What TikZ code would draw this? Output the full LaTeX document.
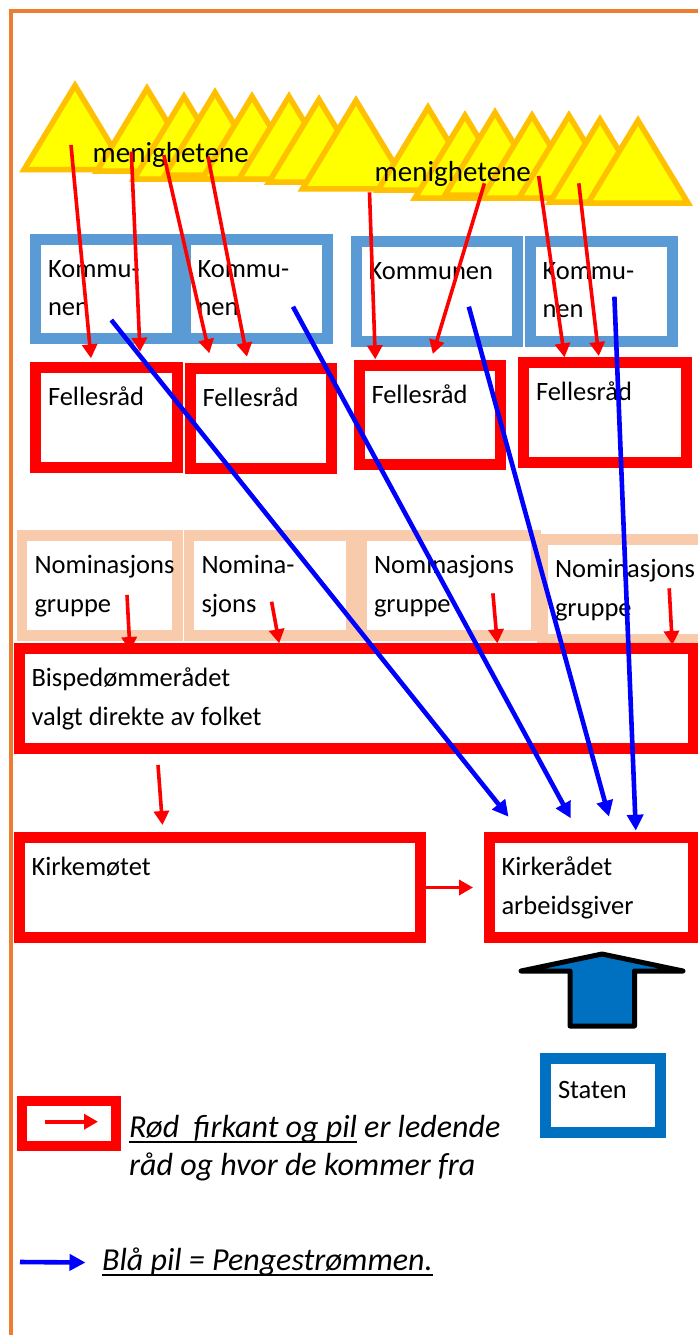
\documentclass[tikz,border=0pt]{standalone}
\usepackage{fontspec}
\setmainfont{Carlito}
\usetikzlibrary{arrows.meta}
\definecolor{frameorange}{HTML}{ED7D31}
\definecolor{kommblue}{HTML}{5B9BD5}
\definecolor{nompeach}{HTML}{F8CBAD}
\definecolor{statblue}{HTML}{0070C0}
\definecolor{trigold}{HTML}{FFC000}
\definecolor{triyellow}{HTML}{FFFF00}
\definecolor{moneyblue}{HTML}{0000FF}
\newcommand{\boxfont}{\fontsize{26.5}{38.5}\selectfont\hyphenpenalty=10000 }
\newcommand{\menfont}{\fontsize{29}{35}\selectfont}
\newcommand{\legfont}{\fontsize{32}{38}\selectfont\itshape}
\newsavebox{\ulbox}
\newcommand{\ulin}[1]{\sbox{\ulbox}{#1}\rlap{\rule[-6pt]{\wd\ulbox}{2.5pt}}\usebox{\ulbox}}
\tikzset{
  box/.style={rectangle, draw, anchor=north west, inner xsep=12.5pt, inner ysep=0pt,
    outer sep=0pt, align=flush left, font=\boxfont,
    execute at begin node=\strut, execute at end node=\strut},
  kommbox/.style={box, draw=kommblue, line width=11pt},
  redbox/.style={box, draw=red, line width=11pt},
  nombox/.style={box, draw=nompeach, line width=10.5pt},
  statbox/.style={box, draw=statblue, line width=11pt},
  tri/.style={draw=trigold, fill=triyellow, line width=5.5pt},
  mentext/.style={font=\menfont, inner sep=0pt, anchor=base west},
  legtext/.style={font=\legfont, inner sep=0pt, anchor=base west},
  redarr/.style={red, line width=3.6pt, -{Triangle[length=14pt,width=15pt]}},
  bluearr/.style={moneyblue, line width=4.6pt, -{Triangle[length=16pt,width=16pt]}},
  frameline/.style={frameorange, line width=4.5pt},
}
\begin{document}
\begin{tikzpicture}[x=1pt,y=-1pt]
\useasboundingbox (0,0) rectangle (698,1335);
\fill[white] (0,0) rectangle (698,1335);
\draw[frameline] (11,1335) -- (11,11) -- (698,11);
% menighetene
\foreach \ax/\ay/\s in {75/80/1.02, 147/83/1, 184/91/1, 215/87/1, 252/91/1, 289/91/1,
    319/94/1, 356/95/1.07, 428/102/1, 465/110/1, 495/107/1, 532/110/1, 569/110/1,
    600/114/1, 638/115/1}
  \draw[tri] (\ax,\ay+5.5) -- ++(-50*\s,82.5*\s) -- ++(100*\s,0) -- cycle;
\node[mentext] (men1) at (92.5,162) {menighetene};
\node[mentext] (men2) at (374.5,181.5) {menighetene};

% kommuner
\node[kommbox, text width=116.5pt, minimum height=98.5pt] (K1) at (35.5,239.5) {Kommu-\\nen};
\node[kommbox, text width=117pt, minimum height=98.5pt] (K2) at (185,239.5) {Kommu-\\nen};
\node[kommbox, text width=136pt, minimum height=99.5pt] (K3) at (356,241.5) {Kommunen\\};
\node[kommbox, text width=117pt, minimum height=100pt] (K4) at (530,241) {Kommu-\\nen};

% fellesraad
\node[redbox, text width=116.5pt, minimum height=99.5pt] (F1) at (35.5,367.5) {Fellesråd\\};
\node[redbox, text width=116pt, minimum height=99.5pt] (F2) at (190,368.5) {Fellesråd\\};
\node[redbox, text width=116pt, minimum height=99pt] (F3) at (359,365.5) {Fellesråd\\};
\node[redbox, text width=138pt, minimum height=100pt] (F4) at (523.5,362.5) {Fellesråd\\};

% nominasjon
\node[nombox, text width=130.5pt, minimum height=100pt] (N1) at (22,535.5) {Nominasjons\\gruppe};
\node[nombox, text width=137pt, minimum height=100pt] (N2) at (189,535.5) {Nomina-\\sjons};
\node[nombox, text width=149.5pt, minimum height=100pt] (N3) at (361.5,535.5) {Nominasjons\\gruppe};
\node[nombox, text width=142.5pt, minimum height=100pt] (N4) at (542.5,539.5) {Nominasjons\\gruppe};

\node[redbox, text width=649pt, minimum height=99.5pt] (BR) at (19,648.5) {Bispedømmerådet\\valgt direkte av folket};
\node[redbox, text width=376pt, minimum height=100pt] (KM) at (19,837.5) {Kirkemøtet\\};
\node[redbox, text width=179pt, minimum height=100pt] (KR) at (489,837.5) {Kirkerådet\\arbeidsgiver};
\node[statbox, text width=89.5pt, minimum height=73.5pt, text height=18pt, text depth=12pt] (ST) at (545.5,1058.5) {Staten};

% staten -> kirkeraadet
\draw[line width=5pt, fill=statblue, line join=round] (602,954) -- (521,971) -- (570,971) -- (570,1026)
  -- (634.5,1026) -- (634.5,971) -- (683,971) -- cycle;

% piler fra menighetene
\coordinate (m1) at (71,145);
\coordinate (m2) at (131.3,151.7);
\coordinate (m3) at (163.8,155);
\coordinate (m4) at (208,156.7);
\coordinate (m5) at (369.5,192.3);
\coordinate (m6) at (484.4,183.3);
\coordinate (m7) at (538.7,176);
\coordinate (m8) at (578.8,183.3);
\draw[redarr] (m1) -- ([xshift=55.5pt,yshift=9.2pt]F1.north west);
\draw[redarr] (m2) -- ([xshift=104.5pt,yshift=15.8pt]F1.north west);
\draw[redarr] (m3) -- ([xshift=19.3pt,yshift=15.2pt]F2.north west);
\draw[redarr] (m4) -- ([xshift=57pt,yshift=11.8pt]F2.north west);
\draw[redarr] (m5) -- ([xshift=16.3pt,yshift=6.2pt]F3.north west);
\draw[redarr] (m6) -- ([xshift=73.8pt,yshift=11.5pt]F3.north west);
\draw[redarr] (m7) -- ([xshift=41pt,yshift=5.2pt]F4.north west);
\draw[redarr] (m8) -- ([xshift=75.3pt,yshift=6.5pt]F4.north west);

% nominasjon -> bispedommeraadet
\coordinate (n1) at (127,595);
\coordinate (n2) at (271.6,601.7);
\coordinate (n3) at (492.9,593.3);
\coordinate (n4) at (669.2,588.3);
\draw[redarr] (n1) -- ([xshift=111pt,yshift=-2.5pt]BR.north west);
\draw[redarr] (n2) -- ([xshift=260.2pt,yshift=5.2pt]BR.north west);
\draw[redarr] (n3) -- ([xshift=478.3pt,yshift=5.2pt]BR.north west);
\draw[redarr] (n4) -- ([xshift=653.3pt,yshift=3.5pt]BR.north west);
\draw[redarr] ([xshift=139pt,yshift=-17pt]BR.south west) -- ([xshift=143.5pt,yshift=12.5pt]KM.north west);
\draw[redarr] ([xshift=5.5pt]KM.east) -- ([xshift=-16pt]KR.west);

% pengestrommen
\coordinate (k1) at (111.3,320);
\coordinate (k2) at (293,306.7);
\coordinate (k3) at (468.8,306.7);
\coordinate (k4) at (614.4,296.7);
\draw[bluearr] (k1) -- ([xshift=19.5pt,yshift=20.8pt]KR.north west);
\draw[bluearr] (k2) -- ([xshift=81.8pt,yshift=19.2pt]KR.north west);
\draw[bluearr] (k3) -- ([xshift=120pt,yshift=20.8pt]KR.north west);
\draw[bluearr] (k4) -- ([xshift=146.8pt,yshift=6.8pt]KR.north west);

% forklaring
\node[draw=red, line width=10pt, minimum width=94pt, minimum height=45pt, anchor=north west,
  outer sep=0pt, inner sep=0pt] (LB) at (22,1101) {};
\draw[redarr] ([xshift=-24.5pt,yshift=1.8pt]LB.center) -- ([xshift=29pt,yshift=1.8pt]LB.center);
\node[legtext] (LT1) at (129,1137) {\ulin{Rød\ \ firkant og pil} er ledende};
\node[legtext] (LT2) at (129,1175) {råd og hvor de kommer fra};
\coordinate (bl1) at (20,1262);
\coordinate (bl2) at (85.5,1262.5);
\draw[bluearr] (bl1) -- (bl2);
\node[legtext] (BT) at (102,1270) {\ulin{Blå pil = Pengestrømmen.}};
\end{tikzpicture}
\end{document}
